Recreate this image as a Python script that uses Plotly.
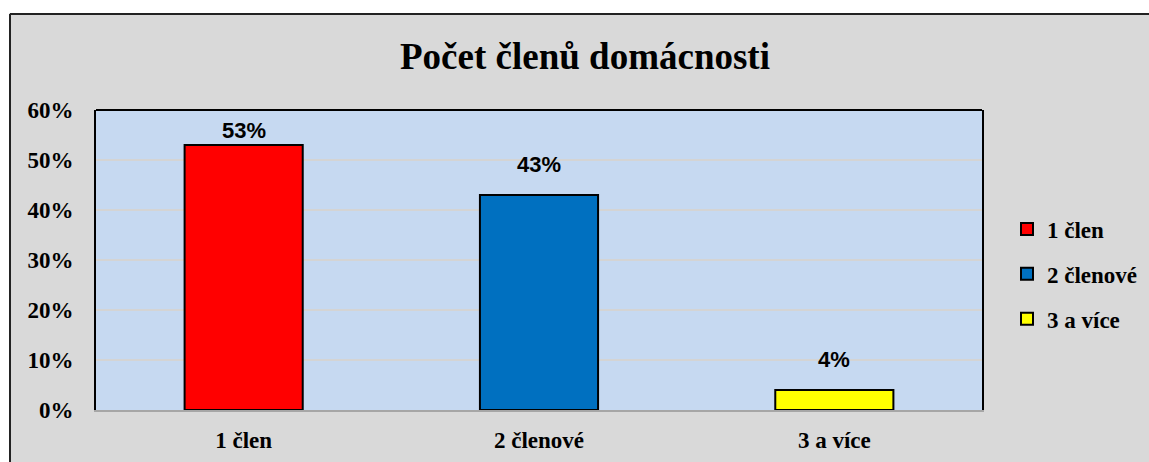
import plotly.graph_objects as go

categories = ["1 člen", "2 členové", "3 a více"]
shares = [0.53, 0.43, 0.04]
colors = ["#ff0000", "#0070c0", "#ffff00"]
y_ticks = [0, 0.1, 0.2, 0.3, 0.4, 0.5, 0.6]
y_tick_labels = ["0%", "10%", "20%", "30%", "40%", "50%", "60%"]
title_text = "Počet členů domácnosti"

W, H = 1149, 462
L, R, T, B = 96, 982, 110, 410  # plot area in pixels
pw, ph = R - L, B - T

def px_x(x):
    return (x - L) / pw

def px_y(y):
    return (B - y) / ph

serif = "Liberation Serif"
sans = "Liberation Sans"

fig = go.Figure()
for i, (c, v, col) in enumerate(zip(categories, shares, colors)):
    fig.add_trace(go.Bar(
        x=[c], y=[v], name=c, width=0.4,
        marker=dict(color=col, line=dict(color="black", width=2)),
        legendgroup=f"g{i}", hoverinfo="skip",
    ))
    fig.add_annotation(
        x=c, y=v, text=f"{v:.0%}", showarrow=False, yanchor="bottom",
        yshift=0 if v > 0.5 else 16,
        font=dict(family=sans, size=22, color="black", weight="bold"),
    )

shapes = [
    # white outside strips
    dict(type="rect", xref="paper", yref="paper", x0=px_x(-5), x1=px_x(W + 5),
         y0=px_y(13), y1=px_y(-5), fillcolor="white", line=dict(width=0), layer="above"),
    dict(type="rect", xref="paper", yref="paper", x0=px_x(-5), x1=px_x(9),
         y0=px_y(13), y1=px_y(H + 5), fillcolor="white", line=dict(width=0), layer="above"),
    # outer border
    dict(type="line", xref="paper", yref="paper", x0=px_x(10), x1=px_x(W + 5),
         y0=px_y(14), y1=px_y(14), line=dict(color="#222", width=2), layer="above"),
    dict(type="line", xref="paper", yref="paper", x0=px_x(10), x1=px_x(10),
         y0=px_y(14), y1=px_y(H + 5), line=dict(color="#222", width=2), layer="above"),
    # plot area top border
    dict(type="line", xref="paper", yref="paper", x0=0, x1=1, y0=1, y1=1,
         line=dict(color="black", width=2), layer="above"),
]

fig.update_layout(
    width=W, height=H,
    margin=dict(l=L, r=W - R, t=T, b=H - B, pad=0, autoexpand=False),
    paper_bgcolor="#d9d9d9",
    plot_bgcolor="#c6d9f1",
    barmode="overlay",
    showlegend=True,
    shapes=shapes,
    title=dict(text=title_text, x=585 / W, xref="container", xanchor="center",
               y=1 - 56 / H, yref="container", yanchor="middle",
               font=dict(family=serif, size=37, color="black", weight="bold")),
    legend=dict(x=1007 / W, xref="container", xanchor="left",
                y=1 - 274 / H, yref="container", yanchor="middle",
                tracegroupgap=12, bgcolor="rgba(0,0,0,0)",
                font=dict(family=serif, size=23, color="black", weight="bold")),
    xaxis=dict(categoryorder="array", categoryarray=categories, automargin=False,
               showline=True, linecolor="#a6a6a6", linewidth=2,
               showgrid=False, ticks="", ticklabelstandoff=8,
               tickfont=dict(family=serif, size=23, color="black", weight="bold")),
    yaxis=dict(range=[0, 0.6], tickvals=y_ticks, ticktext=y_tick_labels, automargin=False,
               showline=True, linecolor="black", linewidth=2, mirror=True,
               showgrid=True, gridcolor="#d4d4d4", gridwidth=1.5,
               zeroline=False, ticks="", ticklabelstandoff=16,
               tickfont=dict(family=serif, size=23, color="black", weight="bold")),
)

fig.write_html(
    "out.html",
    config={"displayModeBar": False, "staticPlot": True},
    post_script="document.body.style.margin='0';document.documentElement.style.overflow='hidden';document.body.style.overflow='hidden';",
)
